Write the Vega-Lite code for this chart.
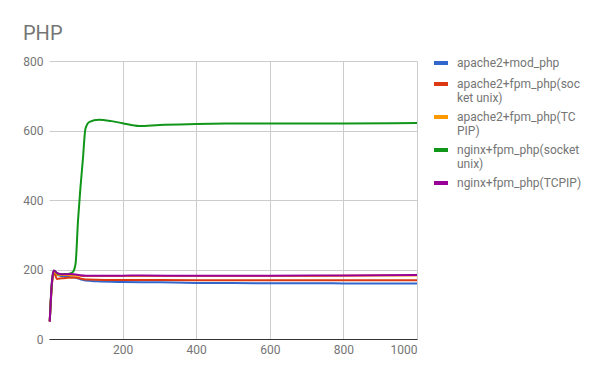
{
  "$schema": "https://vega.github.io/schema/vega-lite/v6.json",
  "width": 368,
  "height": 278,
  "autosize": {"type": "none"},
  "padding": {"left": 49, "top": 61, "right": 193, "bottom": 39},
  "background": "white",
  "title": {
    "text": "PHP",
    "anchor": "start",
    "frame": "group",
    "dx": -26,
    "offset": -6,
    "baseline": "alphabetic",
    "font": "Roboto",
    "fontSize": 20,
    "fontWeight": "normal",
    "color": "#757575"
  },
  "config": {
    "view": {"stroke": null},
    "font": "Roboto"
  },
  "data": {
    "values": [
      {"s": "apache2+mod_php", "x": 2, "y": 50},
      {"s": "apache2+mod_php", "x": 8, "y": 160},
      {"s": "apache2+mod_php", "x": 13, "y": 195},
      {"s": "apache2+mod_php", "x": 20, "y": 186},
      {"s": "apache2+mod_php", "x": 30, "y": 182},
      {"s": "apache2+mod_php", "x": 45, "y": 180},
      {"s": "apache2+mod_php", "x": 60, "y": 178},
      {"s": "apache2+mod_php", "x": 72, "y": 176},
      {"s": "apache2+mod_php", "x": 85, "y": 172},
      {"s": "apache2+mod_php", "x": 100, "y": 168},
      {"s": "apache2+mod_php", "x": 130, "y": 166},
      {"s": "apache2+mod_php", "x": 200, "y": 164},
      {"s": "apache2+mod_php", "x": 300, "y": 163},
      {"s": "apache2+mod_php", "x": 400, "y": 161.5},
      {"s": "apache2+mod_php", "x": 500, "y": 161},
      {"s": "apache2+mod_php", "x": 600, "y": 160.5},
      {"s": "apache2+mod_php", "x": 700, "y": 160.5},
      {"s": "apache2+mod_php", "x": 800, "y": 160},
      {"s": "apache2+mod_php", "x": 900, "y": 160},
      {"s": "apache2+mod_php", "x": 1000, "y": 160},

      {"s": "apache2+fpm_php(socket unix)", "x": 2, "y": 50},
      {"s": "apache2+fpm_php(socket unix)", "x": 8, "y": 158},
      {"s": "apache2+fpm_php(socket unix)", "x": 13, "y": 192},
      {"s": "apache2+fpm_php(socket unix)", "x": 22, "y": 173},
      {"s": "apache2+fpm_php(socket unix)", "x": 35, "y": 175},
      {"s": "apache2+fpm_php(socket unix)", "x": 50, "y": 176},
      {"s": "apache2+fpm_php(socket unix)", "x": 72, "y": 177},
      {"s": "apache2+fpm_php(socket unix)", "x": 90, "y": 173},
      {"s": "apache2+fpm_php(socket unix)", "x": 105, "y": 171},
      {"s": "apache2+fpm_php(socket unix)", "x": 150, "y": 170},
      {"s": "apache2+fpm_php(socket unix)", "x": 200, "y": 170},
      {"s": "apache2+fpm_php(socket unix)", "x": 400, "y": 169},
      {"s": "apache2+fpm_php(socket unix)", "x": 600, "y": 169},
      {"s": "apache2+fpm_php(socket unix)", "x": 800, "y": 169},
      {"s": "apache2+fpm_php(socket unix)", "x": 1000, "y": 169},

      {"s": "apache2+fpm_php(TCPIP)", "x": 2, "y": 50},
      {"s": "apache2+fpm_php(TCPIP)", "x": 8, "y": 160},
      {"s": "apache2+fpm_php(TCPIP)", "x": 13, "y": 194},
      {"s": "apache2+fpm_php(TCPIP)", "x": 25, "y": 184},
      {"s": "apache2+fpm_php(TCPIP)", "x": 50, "y": 184},
      {"s": "apache2+fpm_php(TCPIP)", "x": 80, "y": 182},
      {"s": "apache2+fpm_php(TCPIP)", "x": 110, "y": 181},
      {"s": "apache2+fpm_php(TCPIP)", "x": 200, "y": 181},
      {"s": "apache2+fpm_php(TCPIP)", "x": 400, "y": 181},
      {"s": "apache2+fpm_php(TCPIP)", "x": 600, "y": 181},
      {"s": "apache2+fpm_php(TCPIP)", "x": 800, "y": 182},
      {"s": "apache2+fpm_php(TCPIP)", "x": 1000, "y": 183},

      {"s": "nginx+fpm_php(socket unix)", "x": 2, "y": 52},
      {"s": "nginx+fpm_php(socket unix)", "x": 8, "y": 165},
      {"s": "nginx+fpm_php(socket unix)", "x": 13, "y": 197},
      {"s": "nginx+fpm_php(socket unix)", "x": 26, "y": 186},
      {"s": "nginx+fpm_php(socket unix)", "x": 40, "y": 187},
      {"s": "nginx+fpm_php(socket unix)", "x": 55, "y": 188},
      {"s": "nginx+fpm_php(socket unix)", "x": 65, "y": 193},
      {"s": "nginx+fpm_php(socket unix)", "x": 72, "y": 215},
      {"s": "nginx+fpm_php(socket unix)", "x": 79, "y": 343},
      {"s": "nginx+fpm_php(socket unix)", "x": 85, "y": 430},
      {"s": "nginx+fpm_php(socket unix)", "x": 92, "y": 516},
      {"s": "nginx+fpm_php(socket unix)", "x": 99, "y": 605},
      {"s": "nginx+fpm_php(socket unix)", "x": 110, "y": 625},
      {"s": "nginx+fpm_php(socket unix)", "x": 135, "y": 631},
      {"s": "nginx+fpm_php(socket unix)", "x": 170, "y": 627},
      {"s": "nginx+fpm_php(socket unix)", "x": 200, "y": 621},
      {"s": "nginx+fpm_php(socket unix)", "x": 245, "y": 613},
      {"s": "nginx+fpm_php(socket unix)", "x": 300, "y": 616},
      {"s": "nginx+fpm_php(socket unix)", "x": 400, "y": 618.5},
      {"s": "nginx+fpm_php(socket unix)", "x": 500, "y": 620},
      {"s": "nginx+fpm_php(socket unix)", "x": 600, "y": 620.5},
      {"s": "nginx+fpm_php(socket unix)", "x": 800, "y": 620.5},
      {"s": "nginx+fpm_php(socket unix)", "x": 1000, "y": 621.5},

      {"s": "nginx+fpm_php(TCPIP)", "x": 2, "y": 50},
      {"s": "nginx+fpm_php(TCPIP)", "x": 8, "y": 165},
      {"s": "nginx+fpm_php(TCPIP)", "x": 13, "y": 197},
      {"s": "nginx+fpm_php(TCPIP)", "x": 22, "y": 190},
      {"s": "nginx+fpm_php(TCPIP)", "x": 35, "y": 186},
      {"s": "nginx+fpm_php(TCPIP)", "x": 60, "y": 187},
      {"s": "nginx+fpm_php(TCPIP)", "x": 80, "y": 184},
      {"s": "nginx+fpm_php(TCPIP)", "x": 100, "y": 182},
      {"s": "nginx+fpm_php(TCPIP)", "x": 150, "y": 182},
      {"s": "nginx+fpm_php(TCPIP)", "x": 250, "y": 182.5},
      {"s": "nginx+fpm_php(TCPIP)", "x": 400, "y": 182},
      {"s": "nginx+fpm_php(TCPIP)", "x": 600, "y": 182},
      {"s": "nginx+fpm_php(TCPIP)", "x": 800, "y": 183},
      {"s": "nginx+fpm_php(TCPIP)", "x": 1000, "y": 184}
    ]
  },
  "mark": {"type": "line", "interpolate": "monotone", "strokeWidth": 2},
  "encoding": {
    "x": {
      "field": "x",
      "type": "quantitative",
      "scale": {"domain": [0, 1000], "nice": false, "zero": false},
      "axis": {
        "title": null,
        "values": [200, 400, 600, 800, 1000],
        "format": "d",
        "grid": true,
        "gridColor": "#cccccc",
        "domainColor": "#333333",
        "ticks": false,
        "labelPadding": 5,
        "labelFontSize": 12,
        "labelColor": "#757575",
        "labelFont": "Roboto"
      }
    },
    "y": {
      "field": "y",
      "type": "quantitative",
      "scale": {"domain": [0, 800], "nice": false},
      "axis": {
        "title": null,
        "values": [0, 200, 400, 600, 800],
        "grid": true,
        "gridColor": "#cccccc",
        "domain": false,
        "ticks": false,
        "labelPadding": 6,
        "labelFontSize": 12,
        "labelColor": "#757575",
        "labelFont": "Roboto"
      }
    },
    "color": {
      "field": "s",
      "type": "nominal",
      "sort": ["apache2+mod_php", "apache2+fpm_php(socket unix)", "apache2+fpm_php(TCPIP)", "nginx+fpm_php(socket unix)", "nginx+fpm_php(TCPIP)"],
      "scale": {
        "domain": ["apache2+mod_php", "apache2+fpm_php(socket unix)", "apache2+fpm_php(TCPIP)", "nginx+fpm_php(socket unix)", "nginx+fpm_php(TCPIP)"],
        "range": ["#3366cc", "#dc3912", "#ff9900", "#109618", "#990099"]
      },
      "legend": {
        "title": null,
        "orient": "none",
        "legendX": 383,
        "legendY": -7,
        "symbolType": "stroke",
        "symbolSize": 196,
        "symbolStrokeWidth": 4,
        "labelFont": "Roboto",
        "labelFontSize": 12,
        "labelColor": "#757575",
        "labelLineHeight": 13,
        "labelOffset": 7,
        "labelLimit": 200,
        "rowPadding": 4,
        "labelExpr": "datum.label == 'apache2+fpm_php(socket unix)' ? ['apache2+fpm_php(soc', 'ket unix)'] : datum.label == 'apache2+fpm_php(TCPIP)' ? ['apache2+fpm_php(TC', 'PIP)'] : datum.label == 'nginx+fpm_php(socket unix)' ? ['nginx+fpm_php(socket', 'unix)'] : datum.label"
      }
    }
  }
}
